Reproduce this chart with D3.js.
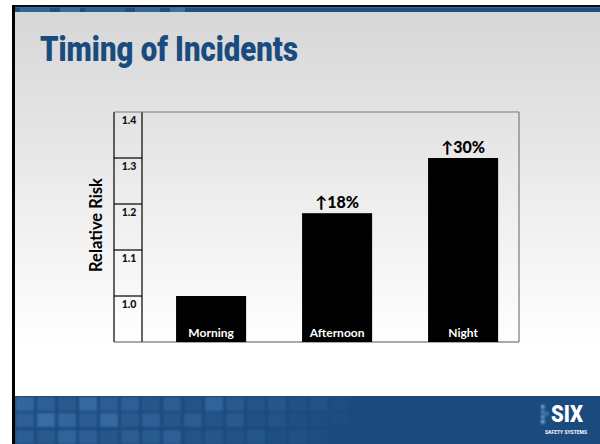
<!DOCTYPE html>
<html>
<head>
<meta charset="utf-8">
<script src="https://cdn.jsdelivr.net/npm/d3@7"></script>
<style>
  html, body { margin: 0; padding: 0; background: #fff; }
  svg { display: block; }
</style>
</head>
<body>
<svg id="slide" width="600" height="444"></svg>
<script>
// Relative risk of incidents by time of day (Morning = baseline 1.0)
const categories = ["Morning", "Afternoon", "Night"];
const relativeRisk = [1.0, 1.18, 1.30];
const tickValues = [1.0, 1.1, 1.2, 1.3, 1.4];
const tickLabels = ["1.0", "1.1", "1.2", "1.3", "1.4"];

const W = 600, H = 444;
const svg = d3.select("#slide");
const defs = svg.append("defs");

// ---- slide background ----
const bg = defs.append("linearGradient").attr("id", "bgGrad")
  .attr("x1", 0).attr("y1", 0).attr("x2", 0).attr("y2", 1);
bg.append("stop").attr("offset", "0%").attr("stop-color", "#d6d6d6");
bg.append("stop").attr("offset", "88%").attr("stop-color", "#ffffff");
bg.append("stop").attr("offset", "100%").attr("stop-color", "#ffffff");

const soft = defs.append("filter").attr("id", "soft").attr("x", "-10%").attr("y", "-10%")
  .attr("width", "120%").attr("height", "120%");
soft.append("feGaussianBlur").attr("stdDeviation", 0.9);

svg.append("rect").attr("x", 0).attr("y", 0).attr("width", W).attr("height", H).attr("fill", "#fff");
svg.append("rect").attr("x", 12).attr("y", 5).attr("width", W - 12).attr("height", 391).attr("fill", "url(#bgGrad)");

// top rule: dark line over a blue strip
svg.append("rect").attr("x", 12).attr("y", 5).attr("width", W - 12).attr("height", 2.5).attr("fill", "#081019");
svg.append("rect").attr("x", 12).attr("y", 7.5).attr("width", W - 12).attr("height", 4.5).attr("fill", "#1d4f84");
const stripPatches = [[20, 30, 0.25], [60, 20, 0.35], [85, 40, 0.2], [135, 25, 0.3], [170, 15, 0.4]];
svg.append("g").selectAll("rect").data(stripPatches).join("rect")
  .attr("x", d => d[0]).attr("y", 7.5).attr("width", d => d[1]).attr("height", 4.5)
  .attr("fill", "#6fa3d6").attr("opacity", d => d[2]);

// bottom band with tiled squares
const band = svg.append("g");
band.append("rect").attr("x", 12).attr("y", 396).attr("width", W - 12).attr("height", 48).attr("fill", "#1b4a7e");
const tiles = band.append("g").attr("filter", "url(#soft)");
const tileRows = [397, 413, 430];
const tileOps = [
  [0.45, 0.35, 0.25, 0.5, 0.3, 0.35, 0.2, 0.3, 0.15, 0.4, 0.25, 0.15, 0.2, 0.1, 0.12, 0.06],
  [0.35, 0.55, 0.45, 0.3, 0.5, 0.25, 0.35, 0.2, 0.3, 0.15, 0.25, 0.1, 0.15, 0.08, 0.05, 0.04],
  [0.3, 0.25, 0.4, 0.35, 0.2, 0.3, 0.25, 0.35, 0.15, 0.2, 0.12, 0.18, 0.08, 0.1, 0.05, 0.03]
];
tileRows.forEach((ty, r) => {
  tiles.append("g").selectAll("rect").data(tileOps[r]).join("rect")
    .attr("x", (d, i) => 16 + i * 21).attr("y", ty)
    .attr("width", 18).attr("height", 14)
    .attr("fill", "#4f88c2").attr("opacity", d => d);
});

// left frame edge
svg.append("rect").attr("x", 12).attr("y", 5).attr("width", 3).attr("height", H - 5).attr("fill", "#000");

// logo
const logo = svg.append("g");
const dots = [[541, 405, 0.9], [541, 410, 0.6], [541, 415, 0.8], [545, 412, 0.5], [541, 420, 1]];
logo.append("g").attr("filter", "url(#soft)").selectAll("rect").data(dots).join("rect")
  .attr("x", d => d[0]).attr("y", d => d[1]).attr("width", 3.5).attr("height", 3.5)
  .attr("fill", "#7fb2e5").attr("opacity", d => d[2]);
logo.append("text").attr("x", 567).attr("y", 422).attr("text-anchor", "middle")
  .attr("font-family", "Roboto, sans-serif").attr("font-weight", 900).attr("font-size", 24)
  .attr("textLength", 32).attr("lengthAdjust", "spacingAndGlyphs")
  .attr("fill", "#fff").text("SIX");
logo.append("text").attr("x", 566).attr("y", 433.5).attr("text-anchor", "middle")
  .attr("font-family", "Roboto, sans-serif").attr("font-weight", 900).attr("font-size", 5.5)
  .attr("textLength", 42).attr("lengthAdjust", "spacingAndGlyphs")
  .attr("fill", "#e8eef6").text("SAFETY SYSTEMS");

// title
svg.append("text").attr("x", 40).attr("y", 61)
  .attr("font-family", "Roboto, sans-serif").attr("font-weight", 900).attr("font-size", 35)
  .attr("textLength", 258).attr("lengthAdjust", "spacingAndGlyphs")
  .attr("fill", "#1a4b7f").text("Timing of Incidents");

// ---- chart ----
const plot = { left: 142, right: 519, top: 112, bottom: 342, axisLeft: 114 };

const y = d3.scaleLinear().domain([0.9, 1.4]).range([plot.bottom, plot.top]);
const x = d3.scaleBand().domain(categories).range([plot.left, plot.right])
  .paddingInner(0.444).paddingOuter(0.218).align(0.62);

const font = "Lato, 'Open Sans', sans-serif";

// axis column: boxed cells, one per tick
const axisG = svg.append("g");
axisG.append("line").attr("x1", plot.axisLeft).attr("x2", plot.axisLeft)
  .attr("y1", plot.top).attr("y2", plot.bottom).attr("stroke", "#000").attr("stroke-width", 1.2);
axisG.append("line").attr("x1", plot.left).attr("x2", plot.left)
  .attr("y1", plot.top).attr("y2", plot.bottom).attr("stroke", "#000").attr("stroke-width", 1.2);
axisG.selectAll("line.cell").data(tickValues.slice(0, -1)).join("line").attr("class", "cell")
  .attr("x1", plot.axisLeft).attr("x2", plot.left)
  .attr("y1", d => y(d)).attr("y2", d => y(d))
  .attr("stroke", "#000").attr("stroke-width", 1.2);
axisG.selectAll("text").data(tickValues).join("text")
  .attr("x", (plot.axisLeft + plot.left) / 2 + 1).attr("y", d => y(d) + 11.5)
  .attr("text-anchor", "middle").attr("font-family", font).attr("font-weight", 900)
  .attr("font-size", 10.5).attr("fill", "#111")
  .text((d, i) => tickLabels[i]);

// plot frame
svg.append("line").attr("x1", plot.axisLeft).attr("x2", plot.right)
  .attr("y1", plot.top).attr("y2", plot.top).attr("stroke", "#7a7a7a").attr("stroke-width", 1.2);
svg.append("line").attr("x1", plot.right).attr("x2", plot.right)
  .attr("y1", plot.top).attr("y2", plot.bottom).attr("stroke", "#7a7a7a").attr("stroke-width", 1.2);
svg.append("line").attr("x1", plot.axisLeft).attr("x2", plot.right)
  .attr("y1", plot.bottom).attr("y2", plot.bottom).attr("stroke", "#555").attr("stroke-width", 1.2);

// y-axis title
svg.append("text").attr("transform", `translate(102,${(plot.top + plot.bottom) / 2 - 2}) rotate(-90)`)
  .attr("text-anchor", "middle").attr("font-family", font).attr("font-weight", 700)
  .attr("font-size", 16.5).attr("fill", "#000").text("Relative Risk");

// bars
const data = categories.map((c, i) => ({ cat: c, v: relativeRisk[i] }));
svg.append("g").selectAll("rect").data(data).join("rect")
  .attr("x", d => x(d.cat)).attr("width", x.bandwidth())
  .attr("y", d => y(d.v)).attr("height", d => y(0.9) - y(d.v))
  .attr("fill", "#000");

// category names inside the bars
svg.append("g").selectAll("text").data(data).join("text")
  .attr("x", d => x(d.cat) + x.bandwidth() / 2).attr("y", plot.bottom - 5)
  .attr("text-anchor", "middle").attr("font-family", font).attr("font-weight", 700)
  .attr("font-size", 12).attr("fill", "#fff").text(d => d.cat);

// increase over the morning baseline
const base = relativeRisk[0];
svg.append("g").selectAll("text").data(data.filter(d => d.v > base)).join("text")
  .attr("x", d => x(d.cat) + x.bandwidth() / 2).attr("y", d => y(d.v) - 5)
  .attr("text-anchor", "middle").attr("font-family", font).attr("font-weight", 900)
  .attr("font-size", 16).attr("fill", "#000")
  .text(d => "\u2191" + Math.round((d.v / base - 1) * 100) + "%");
</script>
</body>
</html>
